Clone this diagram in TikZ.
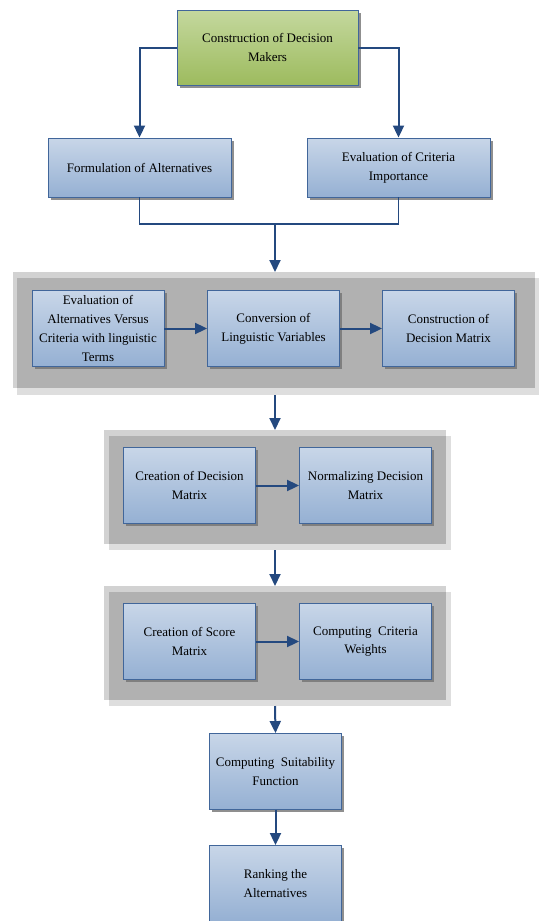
\documentclass[tikz,border=0pt]{standalone}
\usepackage{fontspec}
\setmainfont{Liberation Serif}
\usetikzlibrary{arrows.meta,shadows}
\definecolor{arr}{HTML}{24497F}
\definecolor{bord}{HTML}{41669A}
\definecolor{btop}{HTML}{C8D6E8}
\definecolor{bbot}{HTML}{95B0D3}
\definecolor{gtop}{HTML}{C4D89E}
\definecolor{gbot}{HTML}{9DBB5E}
\definecolor{gA}{HTML}{D2D2D2}
\definecolor{gB}{HTML}{B1B1B1}
\definecolor{gC}{HTML}{DEDEDE}
\tikzset{
  boxbase/.style={draw=bord, line width=0.9pt, align=center, inner sep=2pt,
    font=\fontsize{13}{18.7}\selectfont,
    drop shadow={shadow xshift=2.5pt, shadow yshift=-2.5pt, fill=black!55, opacity=0.8}},
  bluebox/.style={boxbase, top color=btop, bottom color=bbot},
  greenbox/.style={boxbase, top color=gtop, bottom color=gbot},
  wbox/.style={minimum width=132pt, minimum height=76pt},
  arrowline/.style={draw=arr, line width=2pt, -{Triangle[width=11pt,length=12pt]}},
  thinline/.style={draw=arr, line width=1.2pt},
}
\begin{document}
\begin{tikzpicture}[x=1pt,y=-1pt]
\useasboundingbox (0,0) rectangle (539,921);
% group backgrounds
\fill[gC] (17,278) rectangle (539,395);
\fill[gA] (13,272) rectangle (535,388);
\fill[gB] (17,278) rectangle (535,388);
\fill[gC] (109,436) rectangle (451,550);
\fill[gA] (104,430) rectangle (446,544);
\fill[gB] (109,436) rectangle (446,544);
\fill[gC] (109,592) rectangle (451,706);
\fill[gA] (104,586) rectangle (446,700);
\fill[gB] (109,592) rectangle (446,700);
\coordinate (g1top) at (275,272);
\coordinate (g1bot) at (275,395);
\coordinate (g2top) at (275,430);
\coordinate (g2bot) at (275,550);
\coordinate (g3top) at (275,586);
\coordinate (g3bot) at (275,706);
\coordinate (j) at (275,224);
% nodes
\node[greenbox, minimum width=181pt, minimum height=75pt] (cdm) at (267.5,47.5) {Construction of Decision\\Makers};
\node[bluebox, minimum width=183pt, minimum height=59pt] (form) at (139.5,167.5) {Formulation of Alternatives};
\node[bluebox, minimum width=183pt, minimum height=59pt] (evc) at (398.5,167.5) {Evaluation of Criteria\\Importance};
\node[bluebox, wbox] (eva) at (98,328.5) {Evaluation of\\Alternatives Versus\\Criteria with linguistic\\Terms};
\node[bluebox, wbox] (conv) at (273.5,328.5) {Conversion of\\Linguistic Variables};
\node[bluebox, wbox] (cdmx) at (448.5,328.5) {Construction of\\Decision Matrix};
\node[bluebox, wbox] (crdm) at (189.5,485.5) {Creation of Decision\\Matrix};
\node[bluebox, wbox] (norm) at (365.5,485.5) {Normalizing Decision\\Matrix};
\node[bluebox, wbox] (crsm) at (189.5,641.5) {Creation of Score\\Matrix};
\node[bluebox, wbox] (ccw) at (365.5,641.5) {Computing\ \ Criteria\\Weights};
\node[bluebox, wbox] (csf) at (275.5,771.5) {Computing\ \ Suitability\\Function};
\node[bluebox, wbox] (rank) at (275.5,883.5) {Ranking the\\Alternatives};
% connectors
\draw[arrowline] (cdm.west) -| (form.north);
\draw[arrowline] (cdm.east) -| (evc.north);
\draw[thinline] (form.south) |- (j) -| (evc.south);
\draw[arrowline] (j) -- (g1top);
\draw[arrowline] (eva.east) -- (conv.west);
\draw[arrowline] (conv.east) -- (cdmx.west);
\draw[arrowline] (g1bot) -- (g2top);
\draw[arrowline] (crdm.east) -- (norm.west);
\draw[arrowline] (g2bot) -- (g3top);
\draw[arrowline] (crsm.east) -- (ccw.west);
\draw[arrowline] (g3bot) -- (csf.north);
\draw[arrowline] (csf.south) -- (rank.north);
\end{tikzpicture}
\end{document}
